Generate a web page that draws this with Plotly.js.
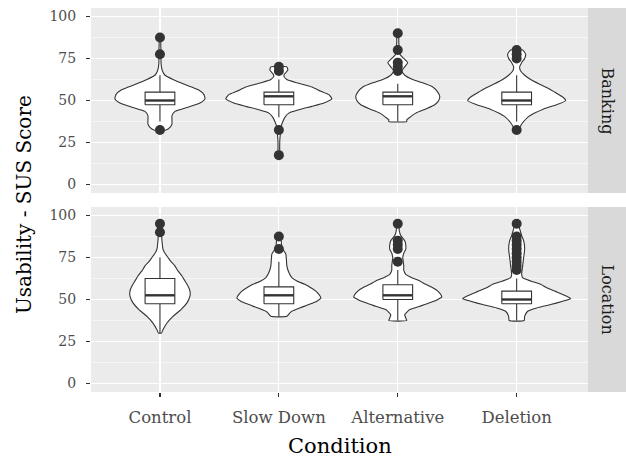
<!DOCTYPE html>
<html>
<head>
<meta charset="utf-8">
<script src="https://cdn.plot.ly/plotly-3.0.1.min.js"></script>
<style>html,body{margin:0;padding:0;background:#fff;}#chart{width:626px;height:457px;}</style>
</head>
<body>
<div id="chart"></div>
<script>
// ---- data ----
const categories = ['Control', 'Slow Down', 'Alternative', 'Deletion'];
const scenarios = ['Banking', 'Location'];
const yTickVals = [0, 25, 50, 75, 100];

// violin outlines: [score, half-width of the density (px-scale units)]
const bankingControlViolin = [[32.5,6],[34,10],[36,12],[38.5,12],[41,12],[43.5,15],[46,28],[48.5,40],[51,45],[53.5,44],[56.5,38],[59.5,25],[62.5,13],[65,5],[67.5,2.5],[70,1.5],[75,1],[77.5,1.5],[80,1],[85,0.8],[87.5,0.8]];
const bankingSlowViolin = [[17.5,0.8],[22,0.8],[27,1],[30,1.5],[32.5,2],[35,2.5],[37.5,4],[40,6],[42.5,10],[44.5,20],[46.5,33],[48.5,45],[51,53],[53.5,50],[55.5,42],[58,33],[60.5,18],[62.5,8],[64.5,5],[66,6],[68,9],[70,8]];
const bankingAltViolin = [[37.5,9],[38.5,9],[40,12],[42.5,18],[45,28],[47.5,37],[50,41],[52.5,42],[55,40],[58,35],[60.5,25],[62.5,15],[65,7],[67.5,4],[70,7],[72.5,10],[75,6],[77.5,2],[80,1.5],[85,1],[90,0.8]];
const bankingDelViolin = [[32.5,2],[35,4],[37.5,7],[40,11],[42.5,18],[45,27],[47.5,40],[50,49],[52.5,45],[55,38],[57.5,31],[60,22],[62.5,14],[65,8],[67.5,4],[70,3],[72.5,5],[75,8],[77.5,9],[80,6]];
const locationControlViolin = [[30,1.5],[32,3],[36,7],[40,13],[44,21],[48,27],[52,30],[55,30],[58,28],[61,25],[64,22],[67,18],[70,15],[72.5,11],[75,8],[77.5,5],[80,3],[85,2],[90,1.5],[95,1]];
const locationSlowViolin = [[40,8],[42,11],[43,13],[45,21],[47,30],[49,38],[51,42],[53,40],[55,37],[57,32],[59,26],[61,18],[63,13],[66,10],[70,8],[74,7.5],[77,7],[79,5],[81,3],[84,2.5],[87.5,1.5]];
const locationAltViolin = [[37.5,9],[39,8],[41,7],[44,12],[46,22],[48,32],[50,40],[51.5,44],[53,43],[55,40],[57,35],[59,28],[61,22],[63,14],[65,8],[67.5,6],[70,6],[72.5,5.5],[75,5],[77.5,6],[80,8],[82.5,8],[85,7],[88,3],[91,1.5],[95,1]];
const locationDelViolin = [[37.5,7.5],[40,8],[43,11],[45,20],[47,34],[49,46],[50.5,54],[52,50],[55,38],[57,30],[59,24],[61,14],[63,6],[65,5],[70,6],[75,7],[80,8],[85,7],[88,5],[92,3],[95,1]];

// box statistics per condition
const bankingQ1 = [47.5, 47.5, 47.5, 47.5];
const bankingMedian = [50, 52.5, 52.5, 50];
const bankingQ3 = [55, 55, 55, 55];
const bankingLower = [37.5, 40, 37.5, 37.5];
const bankingUpper = [65, 62.5, 60, 65];
const locationQ1 = [47.5, 47.5, 50, 47.5];
const locationMedian = [52.5, 52.5, 52.5, 50];
const locationQ3 = [62.5, 57.5, 58.75, 55];
const locationLower = [30, 40, 37.5, 37.5];
const locationUpper = [75, 72.5, 67.5, 62.5];

// outliers per condition
const bankingOutliers = [[32.5, 77.5, 87.5], [17.5, 32.5, 67.5, 70], [67.5, 70, 72.5, 80, 90], [32.5, 75, 77.5, 80]];
const locationOutliers = [[90, 95], [80, 87.5], [72.5, 80, 82.5, 85, 95], [67.5, 70, 72.5, 75, 77.5, 80, 82.5, 85, 87.5, 95]];

// ---- drawing ----
const FONT = 'DejaVu Serif, serif';
const INK = '#333333';
const WSCALE = 1 / 118.9;   // density width units -> x axis units
const BOXW = 0.25;

function violin(center, profile, xa, ya) {
  const xs = [], ys = [];
  profile.forEach(p => { xs.push(center + p[1] * WSCALE); ys.push(p[0]); });
  for (let i = profile.length - 1; i >= 0; i--) { xs.push(center - profile[i][1] * WSCALE); ys.push(profile[i][0]); }
  xs.push(xs[0]); ys.push(ys[0]);
  return {type: 'scatter', mode: 'lines', x: xs, y: ys, xaxis: xa, yaxis: ya,
    fill: 'toself', fillcolor: '#FFFFFF', line: {color: INK, width: 1.1, shape: 'spline', smoothing: 0.5},
    hoverinfo: 'skip', showlegend: false};
}
function whiskers(q1, q3, lo, hi, xa, ya) {
  const xs = [], ys = [];
  q1.forEach((v, i) => { const c = i + 1; xs.push(c, c, null, c, c, null); ys.push(lo[i], v, null, q3[i], hi[i], null); });
  return {type: 'scatter', mode: 'lines', x: xs, y: ys, xaxis: xa, yaxis: ya,
    line: {color: INK, width: 1.1}, hoverinfo: 'skip', showlegend: false};
}
function boxRect(i, q1, q3, xa, ya) {
  const c = i + 1, h = BOXW / 2;
  return {type: 'scatter', mode: 'lines', x: [c - h, c + h, c + h, c - h, c - h], y: [q1, q1, q3, q3, q1],
    xaxis: xa, yaxis: ya, fill: 'toself', fillcolor: '#FFFFFF', line: {color: INK, width: 1.1},
    hoverinfo: 'skip', showlegend: false};
}
function medians(med, xa, ya) {
  const xs = [], ys = [];
  med.forEach((m, i) => { xs.push(i + 1 - BOXW / 2, i + 1 + BOXW / 2, null); ys.push(m, m, null); });
  return {type: 'scatter', mode: 'lines', x: xs, y: ys, xaxis: xa, yaxis: ya,
    line: {color: INK, width: 2.4}, hoverinfo: 'skip', showlegend: false};
}
function outliers(groups, xa, ya) {
  const xs = [], ys = [];
  groups.forEach((g, i) => g.forEach(v => { xs.push(i + 1); ys.push(v); }));
  return {type: 'scatter', mode: 'markers', x: xs, y: ys, xaxis: xa, yaxis: ya,
    marker: {color: INK, size: 10, line: {width: 0}}, hoverinfo: 'skip', showlegend: false};
}

const bankingViolins = [bankingControlViolin, bankingSlowViolin, bankingAltViolin, bankingDelViolin];
const locationViolins = [locationControlViolin, locationSlowViolin, locationAltViolin, locationDelViolin];

const traces = [];
bankingViolins.forEach((p, i) => traces.push(violin(i + 1, p, 'x2', 'y')));
locationViolins.forEach((p, i) => traces.push(violin(i + 1, p, 'x', 'y2')));
traces.push(whiskers(bankingQ1, bankingQ3, bankingLower, bankingUpper, 'x2', 'y'));
traces.push(whiskers(locationQ1, locationQ3, locationLower, locationUpper, 'x', 'y2'));
bankingQ1.forEach((v, i) => traces.push(boxRect(i, v, bankingQ3[i], 'x2', 'y')));
locationQ1.forEach((v, i) => traces.push(boxRect(i, v, locationQ3[i], 'x', 'y2')));
traces.push(medians(bankingMedian, 'x2', 'y'));
traces.push(medians(locationMedian, 'x', 'y2'));
traces.push(outliers(bankingOutliers, 'x2', 'y'));
traces.push(outliers(locationOutliers, 'x', 'y2'));

const W = 626, H = 457;
const xDom = [91 / W, 588 / W];
const topDom = [1 - 193 / H, 1 - 8 / H];
const botDom = [1 - 392 / H, 1 - 207 / H];

const yBase = {
  range: [-5, 105], tickvals: yTickVals, ticktext: yTickVals.map(String),
  ticks: 'outside', ticklen: 4, tickwidth: 1.1, tickcolor: INK, ticklabelstandoff: 7,
  tickfont: {family: FONT, size: 14, color: '#4D4D4D'},
  showgrid: true, gridcolor: '#FFFFFF', gridwidth: 1.1, zeroline: false, showline: false,
  minor: {dtick: 12.5, tick0: 12.5, showgrid: true, gridcolor: '#FFFFFF', gridwidth: 0.5, ticks: ''},
  fixedrange: true
};
const xBase = {
  range: [0.42, 4.6], tickvals: [1, 2, 3, 4], ticktext: categories,
  showgrid: true, gridcolor: '#FFFFFF', gridwidth: 1.1, zeroline: false, showline: false,
  domain: xDom, fixedrange: true
};

const layout = {
  width: W, height: H,
  margin: {l: 0, r: 0, t: 0, b: 0},
  paper_bgcolor: '#FFFFFF', plot_bgcolor: '#EBEBEB',
  showlegend: false,
  xaxis: Object.assign({}, xBase, {anchor: 'y2', ticks: 'outside', ticklen: 4, tickwidth: 1.1, tickcolor: INK,
    ticklabelstandoff: 6, tickfont: {family: FONT, size: 16.5, color: '#4D4D4D'}}),
  xaxis2: Object.assign({}, xBase, {anchor: 'y', matches: 'x', showticklabels: false, ticks: ''}),
  yaxis: Object.assign({}, yBase, {domain: topDom, anchor: 'x2'}),
  yaxis2: Object.assign({}, yBase, {domain: botDom, anchor: 'x'}),
  shapes: [
    {type: 'rect', xref: 'paper', yref: 'paper', x0: 588 / W, x1: 1, y0: topDom[0], y1: topDom[1], fillcolor: '#D9D9D9', line: {width: 0}, layer: 'below'},
    {type: 'rect', xref: 'paper', yref: 'paper', x0: 588 / W, x1: 1, y0: botDom[0], y1: botDom[1], fillcolor: '#D9D9D9', line: {width: 0}, layer: 'below'}
  ],
  annotations: [
    {text: scenarios[0], xref: 'paper', yref: 'paper', x: 607 / W, y: (topDom[0] + topDom[1]) / 2, xanchor: 'center', yanchor: 'middle',
      showarrow: false, textangle: 90, font: {family: FONT, size: 16, color: '#1A1A1A'}},
    {text: scenarios[1], xref: 'paper', yref: 'paper', x: 607 / W, y: (botDom[0] + botDom[1]) / 2, xanchor: 'center', yanchor: 'middle',
      showarrow: false, textangle: 90, font: {family: FONT, size: 16, color: '#1A1A1A'}},
    {text: 'Usability - SUS Score', xref: 'paper', yref: 'paper', x: 24 / W, y: 1 - 205 / H, xanchor: 'center', yanchor: 'middle',
      showarrow: false, textangle: -90, font: {family: FONT, size: 20, color: '#000000'}},
    {text: 'Condition', xref: 'paper', yref: 'paper', x: (xDom[0] + xDom[1]) / 2, y: 1 - 446 / H, xanchor: 'center', yanchor: 'middle',
      showarrow: false, font: {family: FONT, size: 21, color: '#000000'}}
  ]
};

Plotly.newPlot('chart', traces, layout, {staticPlot: true, displayModeBar: false});
</script>
</body>
</html>
